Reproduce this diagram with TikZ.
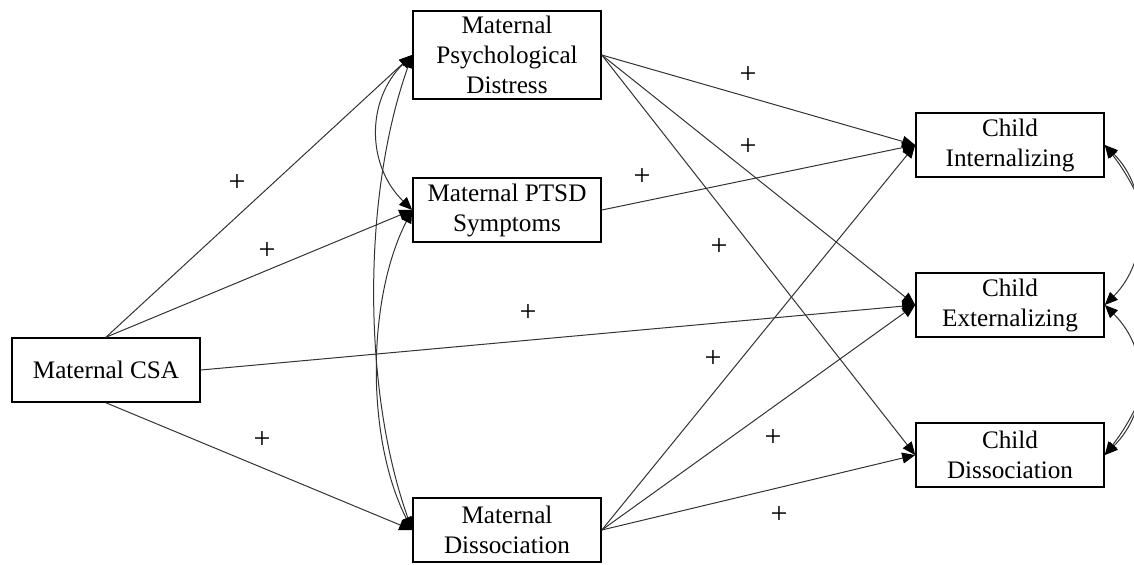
\documentclass[tikz,border=0pt]{standalone}
\usepackage{fontspec}
\setmainfont{Liberation Serif}
\usetikzlibrary{arrows.meta}

\begin{document}
\begin{tikzpicture}[x=0.5pt,y=-0.5pt, every node/.style={font=\fontsize{12.6}{15}\selectfont},
  box/.style={draw,line width=0.8pt,minimum width=94pt,minimum height=32pt,align=center,inner sep=1pt},
  arr/.style={draw=black!80,line width=0.5pt,-{Triangle[length=6.5pt,width=5.5pt,color=black]}},
  cov/.style={draw=black!80,line width=0.5pt,{Triangle[length=6.5pt,width=5.5pt,color=black]}-{Triangle[length=6.5pt,width=5.5pt,color=black]}},
  sign/.style={inner sep=0pt,font=\fontsize{15}{15}\selectfont}]
  \useasboundingbox (0,0) rectangle (1134,564);
  % exogenous and mediators
  \node[box] (csa) at (106,370) {Maternal CSA};
  \node[box,minimum height=44pt] (mpd) at (507,55) {Maternal\\Psychological\\Distress};
  \node[box] (ptsd) at (507,210) {Maternal PTSD\\Symptoms};
  \node[box] (md) at (507,530) {Maternal\\Dissociation};
  % outcomes
  \node[box] (ci) at (1010,145) {Child\\Internalizing};
  \node[box] (ce) at (1010,305) {Child\\Externalizing};
  \node[box] (cd) at (1010,455) {Child\\Dissociation};
  % paths
  \draw[arr] (csa.north) -- (mpd.west);
  \draw[arr] (csa.north) -- (ptsd.west);
  \draw[arr] (csa.east) -- (ce.west);
  \draw[arr] (csa.south) -- (md.west);
  \draw[arr] (mpd.east) -- (ci.west);
  \draw[arr] (mpd.east) -- (ce.west);
  \draw[arr] (mpd.east) -- (cd.west);
  \draw[arr] (ptsd.east) -- (ci.west);
  \draw[arr] (md.east) -- (ci.west);
  \draw[arr] (md.east) -- (ce.west);
  \draw[arr] (md.east) -- (cd.west);
  % covariances
  \draw[cov] (mpd.west) .. controls +(-46,45) and +(-46,-45) .. (ptsd.west);
  \draw[cov] (ptsd.west) .. controls +(-46,90) and +(-46,-90) .. (md.west);
  \draw[cov] (mpd.west) .. controls +(-50,140) and +(-50,-140) .. (md.west);
  \draw[cov] (ci.east) .. controls +(45,45) and +(45,-45) .. (ce.east);
  \draw[cov] (ce.east) .. controls +(45,45) and +(45,-45) .. (cd.east);
  \draw[cov] (ci.east) .. controls +(70,90) and +(70,-90) .. (cd.east);
  % signs
  \node[sign] (s1) at (237,183) {+};
  \node[sign] (s2) at (267,251) {+};
  \node[sign] (s3) at (528,313) {+};
  \node[sign] (s4) at (262,440) {+};
  \node[sign] (s5) at (748,75) {+};
  \node[sign] (s6) at (748,147) {+};
  \node[sign] (s7) at (642,177) {+};
  \node[sign] (s8) at (719,247) {+};
  \node[sign] (s9) at (713,359) {+};
  \node[sign] (s10) at (773,438) {+};
  \node[sign] (s11) at (779,515) {+};
\end{tikzpicture}
\end{document}
